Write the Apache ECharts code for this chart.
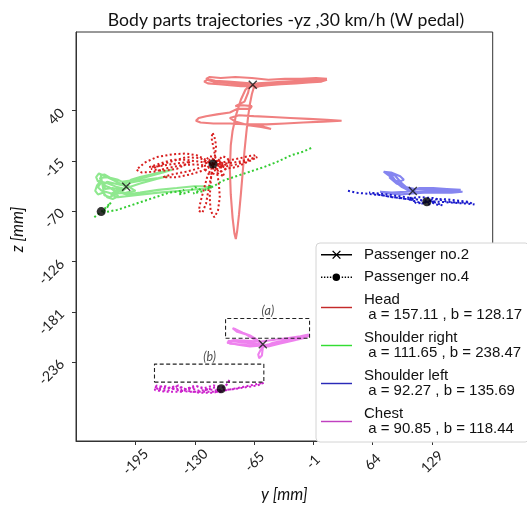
<!DOCTYPE html>
<html><head><meta charset="utf-8">
<script src="https://cdn.jsdelivr.net/npm/echarts@6/dist/echarts.min.js"></script>
<style>html,body{margin:0;padding:0;background:#fff}#c{width:527px;height:508px}</style>
</head><body><div id="c"></div>
<script>
// ---------- data ----------
const titleText = 'Body parts trajectories -yz ,30 km/h (W pedal)';
const xTicks = [-195, -130, -65, -1, 64, 129];
const zTicks = [40, -15, -70, -126, -181, -236];
const passengerNames = ['Passenger no.2', 'Passenger no.4'];
const partNames = ['Head', 'Shoulder right', 'Shoulder left', 'Chest'];
const partA = [157.11, 111.65, 92.27, 90.85];
const partB = [128.17, 238.47, 135.69, 118.44];

// Passenger no.2 (solid) trajectories [y, z] in mm
const headP2 = [[-67,68],[-76,69],[-88,70],[-100,71],[-110,72],[-117,74],[-120,72],[-116,70],[-104,69],[-92,68],[-80,67],[-68,67],[-55,69],[-40,70],[-25,71],[-10,72],[4,73],[14,74],[8,72],[-6,71],[-20,70],[-36,69],[-50,68],[-60,67],[-66,65],[-68,58],[-70,48],[-72,34],[-74,16],[-76,-4],[-78,-28],[-80,-52],[-82,-74],[-84,-92],[-85.5,-101],[-87,-95],[-89,-78],[-91,-52],[-92,-24],[-91,2],[-89,18],[-85,36],[-80,52],[-75,63],[-70,68],[-62,70],[-48,71],[-32,72],[-16,73],[0,74],[14,75],[2,76],[-14,75],[-32,75],[-50,74],[-68,76],[-86,77],[-102,76],[-114,77],[-118,75],[-108,73],[-94,72],[-80,71],[-70,70],[-72,60],[-76,50],[-86,45],[-78,46],[-68,45],[-70,42],[-84,42],[-92,38],[-106,36],[-118,34],[-126,32],[-129,29],[-124,27],[-110,26],[-92,26],[-72,25],[-52,25],[-32,26],[-12,27],[10,28],[30,29],[14,30],[-6,31],[-26,32],[-46,33],[-66,34],[-82,35],[-92,32],[-86,28],[-72,24],[-58,22],[-47,20],[-54,22],[-64,25]];
const shoulderRP2 = [[-205,-44],[-212,-40],[-220,-36],[-228,-32],[-235,-29],[-238,-33],[-236,-38],[-232,-36],[-237,-42],[-239,-48],[-236,-52],[-230,-50],[-226,-55],[-220,-57],[-214,-54],[-218,-48],[-224,-44],[-230,-42],[-226,-38],[-218,-40],[-210,-42],[-200,-36],[-190,-33],[-178,-30],[-166,-27],[-155,-25],[-165,-28],[-180,-32],[-195,-36],[-210,-38],[-200,-39],[-185,-36],[-170,-34],[-160,-32],[-172,-35],[-190,-40],[-205,-45],[-212,-50],[-205,-52],[-190,-50],[-170,-47],[-150,-45],[-131,-43],[-120,-43],[-112,-45],[-125,-46],[-145,-48],[-170,-50],[-195,-53],[-214,-55],[-222,-52],[-215,-47],[-206,-46],[-215,-44],[-225,-40],[-232,-38],[-236,-44],[-232,-48],[-225,-50],[-218,-52],[-212,-47],[-220,-45],[-228,-46],[-234,-34],[-226,-33],[-214,-36],[-206,-40],[-200,-45],[-195,-48],[-205,-50],[-216,-51],[-223,-55],[-229,-53],[-233,-31],[-229,-30],[-222,-34],[-205,-44]];
const shoulderLP2 = [[107.6,-48.6],[100,-46],[95,-42],[88,-36],[80,-30],[76,-27],[84,-28],[94,-32],[98,-36],[92,-38],[85,-35],[82,-33],[90,-40],[100,-44],[110,-46],[125,-47],[140,-47],[155,-48],[162,-49],[150,-50],[135,-50],[120,-50],[107,-51],[95,-52],[82,-51],[72,-49],[85,-50],[100,-49],[107,-48],[115,-45],[130,-45],[145,-46],[160,-47],[148,-49],[128,-49],[110,-49],[102,-47],[96,-44],[90,-39],[86,-33],[80,-28],[88,-31],[96,-40],[104,-47],[107.6,-48.6]];
const chestP2 = [[-56,-217.5],[-65,-216],[-75,-215],[-85,-214],[-94,-213],[-92,-216],[-80,-217],[-68,-218],[-56,-217.5],[-62,-212],[-70,-207],[-78,-204],[-86,-200],[-89,-199],[-84,-203],[-74,-206],[-64,-212],[-56,-217],[-58,-222],[-61,-228],[-60,-232],[-57,-229],[-56,-220],[-45,-215],[-35,-213],[-25,-211],[-15,-209],[-5,-207],[-12,-210],[-25,-213],[-40,-215],[-56,-218],[-70,-219],[-85,-217],[-95,-215],[-88,-212],[-72,-213],[-60,-214],[-45,-212],[-30,-210],[-15,-208],[-6,-206],[-20,-212],[-38,-216],[-50,-219],[-58,-217]];

// Passenger no.4 (dotted) trajectories [y, z] in mm
const headP4 = [[-110,-19],[-105,-15],[-100,-10],[-95,-12],[-92,-16],[-98,-20],[-104,-22],[-108,-10],[-110,0],[-112,10],[-111,16],[-109,12],[-107,2],[-108,-8],[-110,-16],[-100,-17],[-90,-14],[-80,-12],[-72,-10],[-65,-9],[-66,-12],[-75,-16],[-85,-19],[-95,-21],[-103,-20],[-106,-28],[-104,-40],[-103,-55],[-105,-70],[-109,-77],[-113,-70],[-114,-55],[-113,-40],[-112,-28],[-116,-30],[-120,-45],[-124,-60],[-126,-70],[-122,-72],[-118,-62],[-115,-45],[-112,-30],[-110,-22],[-118,-14],[-128,-9],[-140,-7],[-155,-8],[-172,-11],[-185,-17],[-194,-25],[-188,-28],[-175,-27],[-160,-23],[-145,-20],[-130,-19],[-120,-20],[-128,-24],[-140,-27],[-155,-30],[-165,-33],[-150,-33],[-135,-30],[-122,-26],[-114,-22],[-106,-24],[-100,-28],[-98,-32],[-104,-30],[-108,-26],[-112,-18],[-110,-19],[-104,-14],[-100,-22],[-114,-24],[-118,-18],[-112,-12],[-104,-18],[-96,-24],[-108,-30],[-118,-26],[-120,-16],[-114,-10],[-106,-12],[-100,-18],[-110,-19],[-125,-16],[-140,-14],[-155,-14],[-168,-18],[-180,-22],[-170,-21],[-150,-18],[-135,-16],[-150,-24],[-165,-26],[-178,-24],[-160,-17],[-140,-11],[-125,-12],[-110,-19],[-95,-18],[-82,-16],[-70,-13],[-62,-11],[-70,-15],[-85,-22],[-98,-24],[-106,-20]];
const shoulderRP4 = [[-240,-77],[-232.6,-71.4],[-228,-67],[-222,-61],[-220,-59],[-224,-64],[-231,-72],[-215,-69],[-200,-64],[-185,-59],[-170,-54],[-158,-50],[-150,-49],[-142,-47],[-148,-52],[-138,-50],[-130,-44],[-124,-47],[-132,-51],[-120,-48],[-112,-42],[-116,-46],[-108,-42],[-100,-37],[-85,-32],[-70,-27],[-55,-22],[-40,-16],[-25,-9],[-12,-5],[-1,0]];
const shoulderLP4 = [[37,-48],[45,-50],[55,-51],[65,-52],[75,-53],[85,-55],[95,-56],[105,-58],[112,-60],[118,-62],[123,-60],[128,-59],[135,-62],[140,-64],[132,-63],[125,-58],[140,-57],[150,-58],[160,-59],[168,-60],[175,-63],[165,-62],[150,-61],[135,-60],[115,-58],[100,-55],[80,-52],[60,-50],[80,-54],[100,-57],[110,-57],[118,-59],[126,-63],[132,-60],[120,-61],[112,-62],[104,-56],[115,-55],[130,-56],[145,-60],[155,-61],[170,-61]];
const chestP4 = [[-174,-264],[-165,-266],[-155,-264],[-145,-267],[-135,-265],[-125,-268],[-115,-266],[-105,-268],[-101.5,-266],[-96,-262],[-92,-255],[-94,-260],[-100,-264],[-110,-262],[-120,-265],[-130,-262],[-140,-266],[-150,-263],[-160,-268],[-172,-266],[-165,-262],[-150,-267],[-135,-269],[-120,-269],[-105,-269],[-95,-267],[-85,-265],[-75,-263],[-65,-261],[-55,-259],[-62,-262],[-75,-264],[-88,-266],[-100,-267],[-110,-270],[-125,-270],[-138,-268],[-148,-262],[-160,-265],[-172,-262],[-174,-267],[-162,-269],[-145,-269],[-128,-263],[-118,-267],[-108,-264],[-102,-270]];

// markers
const crossP2 = [[-67,68.4],[-205.2,-43.5],[107.8,-48.2],[-56,-216.8]];
const dotP4 = [[-110.4,-18.6],[-232.5,-70.9],[123.1,-60.1],[-101.4,-265.6]];

// annotation boxes: [yMin, yMax, zMin, zMax]
const boxA = [-96.7, -5, -210, -188.3];
const boxB = [-174.3, -54.9, -258.3, -238.5];
const boxLabels = [{name: '(a)', value: [-50.5, -180]}, {name: '(b)', value: [-114.2, -230.6]}];

// ---------- styles ----------
const lightColors = ['#f08080', '#8fe88f', '#8585f0', '#ee82ee'];
const darkColors = ['#d81e1e', '#33cc33', '#1a1acc', '#cc22cc'];
const legendColors = ['#c42a2a', '#33dd33', '#2a2ab8', '#c040c0'];
const ICON_X = 'path://M11.5,1L12.5,0L20.5,8L19.5,9ZM19.5,0L20.5,1L12.5,9L11.5,8Z';
const ICON_P2 = 'path://M0,3.8H32V5.2H0ZM11.5,1L12.5,0L20.5,8L19.5,9ZM19.5,0L20.5,1L12.5,9L11.5,8Z';
const ICON_P4 = 'path://M0.5,3.8H1.9V5.2H0.5ZM3.5,3.8H4.9V5.2H3.5ZM6.5,3.8H7.9V5.2H6.5ZM9.5,3.8H10.9V5.2H9.5ZM12.2,4.5A3.8,3.8 0 1,1 19.8,4.5A3.8,3.8 0 1,1 12.2,4.5ZM21.5,3.8H22.9V5.2H21.5ZM24.5,3.8H25.9V5.2H24.5ZM27.5,3.8H28.9V5.2H27.5ZM30.5,3.8H31.9V5.2H30.5Z';
const ICON_LINE = 'path://M0,0H32V1.5H0Z';
const tickFont = 'Lato';

const p2Sets = [headP2, shoulderRP2, shoulderLP2, chestP2];
const p4Sets = [headP4, shoulderRP4, shoulderLP4, chestP4];

const series = [];
p2Sets.forEach((d, i) => series.push({
  name: partNames[i] + ' P2', type: 'line', data: d, symbol: 'none', silent: true,
  lineStyle: {color: lightColors[i], width: 2.1}, z: 2
}));
p4Sets.forEach((d, i) => series.push({
  name: partNames[i] + ' P4', type: 'line', data: d, symbol: 'none', silent: true,
  lineStyle: {color: darkColors[i], width: 2, type: [2, 2.4]}, z: 3
}));
function boxPath(b) { return [[b[0], b[2]], [b[1], b[2]], [b[1], b[3]], [b[0], b[3]], [b[0], b[2]]]; }
[boxA, boxB].forEach((b, i) => series.push({
  name: 'box' + i, type: 'line', data: boxPath(b), symbol: 'none', silent: true,
  lineStyle: {color: '#222', width: 1.1, type: [4, 2.5]}, z: 4
}));
series.push({name: 'boxlabels', type: 'scatter', data: boxLabels, symbolSize: 0, silent: true, z: 5,
  label: {show: true, position: 'inside', formatter: '{b}', fontStyle: 'italic', fontFamily: tickFont, fontSize: 12.5, color: '#222'}});
series.push({name: 'crossMarks', type: 'scatter', data: crossP2, symbol: ICON_X, symbolSize: 9, silent: true, z: 6,
  itemStyle: {color: '#111'}});
series.push({name: 'dotMarks', type: 'scatter', data: dotP4, symbol: 'circle', symbolSize: 9, silent: true, z: 6,
  itemStyle: {color: '#000'}});
// legend-only series
passengerNames.concat(partNames).forEach((n, i) => series.push({
  name: n, type: 'line', data: [], symbol: 'none', color: i < 2 ? '#000' : legendColors[i - 2]
}));

const legendData = [
  {name: passengerNames[0], icon: ICON_P2, itemStyle: {color: '#000'}},
  {name: passengerNames[1], icon: ICON_P4, itemStyle: {color: '#000'}}
].concat(partNames.map((n, i) => ({name: n, icon: ICON_LINE, itemStyle: {color: legendColors[i]}})));

const chart = echarts.init(document.getElementById('c'), null, {renderer: 'canvas'});
chart.setOption({
  animation: false,
  backgroundColor: '#fff',
  graphic: [{type: 'text', x: 286, y: 20, silent: true,
    style: {text: titleText, fontFamily: tickFont, fontSize: 17.6, fill: '#111', align: 'center', verticalAlign: 'middle', textAlign: 'center', textVerticalAlign: 'middle'}}],
  grid: {left: 76, right: 34.3, top: 32, bottom: 61, show: true, borderColor: '#333', borderWidth: 1, backgroundColor: 'transparent'},
  xAxis: {
    type: 'value', min: -260, max: 195,
    name: 'y [mm]', nameLocation: 'middle', nameGap: 45,
    nameTextStyle: {fontFamily: tickFont, fontStyle: 'italic', fontSize: 16.5, color: '#111'},
    axisLine: {show: true, onZero: false, lineStyle: {color: '#333'}},
    axisTick: {show: true, length: 4, lineStyle: {color: '#333'}, customValues: xTicks},
    axisLabel: {customValues: xTicks, rotate: 45, align: 'center', verticalAlign: 'middle', margin: 21,
      fontFamily: tickFont, fontSize: 14, color: '#222', formatter: v => String(v)},
    splitLine: {show: false}
  },
  yAxis: {
    type: 'value', min: -323, max: 126.5,
    name: 'z [mm]', nameLocation: 'middle', nameGap: 46,
    nameTextStyle: {fontFamily: tickFont, fontStyle: 'italic', fontSize: 16.5, color: '#111', padding: [0, 0, 0, 14]},
    axisLine: {show: true, onZero: false, lineStyle: {color: '#333'}},
    axisTick: {show: true, length: 4, lineStyle: {color: '#333'}, customValues: zTicks},
    axisLabel: {customValues: zTicks, rotate: 45, margin: 14,
      fontFamily: tickFont, fontSize: 14, color: '#222', formatter: v => String(v)},
    splitLine: {show: false}
  },
  legend: {
    orient: 'vertical', left: 316, top: 243, z: 10,
    padding: [4, 7, 5, 5], itemWidth: 31, itemHeight: 14, itemGap: 7,
    backgroundColor: '#fff', borderColor: '#d4d4d4', borderWidth: 1, borderRadius: 4,
    selectedMode: false,
    textStyle: {fontFamily: 'Liberation Sans', fontSize: 15, lineHeight: 15.5, color: '#111', padding: [0, 0, 0, 7]},
    formatter: function (name) {
      const i = partNames.indexOf(name);
      if (i < 0) return name;
      return name + '\n a = ' + partA[i].toFixed(2) + ' , b = ' + partB[i].toFixed(2);
    },
    data: legendData
  },
  series: series
});
</script></body></html>
